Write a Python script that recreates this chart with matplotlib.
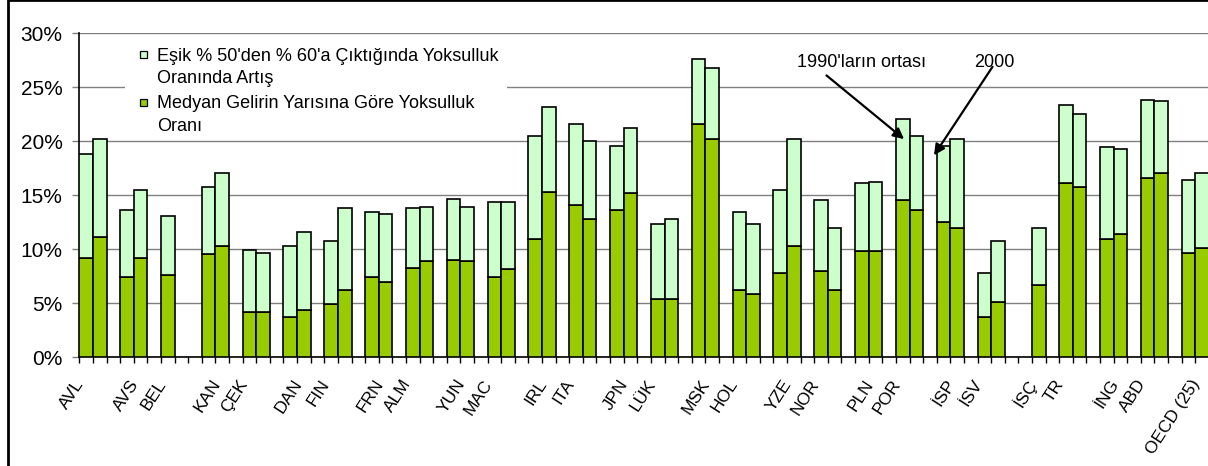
import numpy as np
import matplotlib
import matplotlib.pyplot as plt
from matplotlib.patches import Rectangle

matplotlib.use("Agg")
plt.rcParams["font.family"] = ["Liberation Sans", "DejaVu Sans"]

countries = ["AVL", "AVS", "BEL", "KAN", "ÇEK", "DAN", "FIN", "FRN", "ALM", "YUN",
             "MAC", "IRL", "ITA", "JPN", "LÜK", "MSK", "HOL", "YZE", "NOR", "PLN",
             "POR", "İSP", "İSV", "İSÇ", "TR", "İNG", "ABD", "OECD (25)"]

# poverty rate at half of median income (%), mid-1990s and 2000
base_mid90s = [9.2, 7.4, 7.65, 9.55, 4.2, 3.7, 4.9, 7.4, 8.3, 9.05,
               7.4, 10.95, 14.1, 13.6, 5.4, 21.6, 6.2, 7.8, 8.0, 9.85,
               14.55, 12.5, 3.7, np.nan, 16.1, 10.95, 16.6, 9.7]
base_2000 = [11.1, 9.2, np.nan, 10.3, 4.2, 4.35, 6.2, 7.0, 8.9, 8.9,
             8.15, 15.3, 12.8, 15.2, 5.4, 20.2, 5.9, 10.3, 6.2, 9.85,
             13.6, 12.0, 5.15, 6.7, 15.8, 11.4, 17.05, 10.15]
# increase in the rate when the threshold goes from 50% to 60%
rise_mid90s = [9.6, 6.2, 5.45, 6.25, 5.7, 6.6, 5.9, 6.1, 5.5, 5.65,
               7.0, 9.55, 7.5, 6.0, 6.95, 6.0, 7.3, 7.7, 6.55, 6.25,
               7.55, 7.05, 4.1, np.nan, 7.25, 8.5, 7.25, 6.7]
rise_2000 = [9.1, 6.3, np.nan, 6.8, 5.5, 7.25, 7.6, 6.3, 5.05, 5.05,
             6.25, 7.9, 7.25, 6.0, 7.4, 6.6, 6.45, 9.9, 5.8, 6.4,
             6.9, 8.2, 5.65, 5.3, 6.75, 7.85, 6.65, 6.9]

legend_labels = ["Eşik % 50'den % 60'a Çıktığında Yoksulluk\nOranında Artış",
                 "Medyan Gelirin Yarısına Göre Yoksulluk\nOranı"]

DARK = "#99CC00"
LIGHT = "#CCFFCC"
W, H = 1208, 466


def px(x, y):
    return x / W, 1 - y / H


fig = plt.figure(figsize=(W / 100, H / 100), dpi=100)
n_slots = 3 * len(countries)
slot_w = 13.61
ax = fig.add_axes([79.3 / W, (H - 357.3) / H, n_slots * slot_w / W, 324 / H])

idx = np.arange(len(countries))
for offset, base, rise in [(0, base_mid90s, rise_mid90s), (1, base_2000, rise_2000)]:
    base = np.array(base)
    rise = np.array(rise)
    ok = ~np.isnan(base)
    xs = 3 * idx[ok] + offset
    ax.bar(xs, base[ok], width=1.0, color=DARK, edgecolor="black", lw=1.2, zorder=3)
    ax.bar(xs, rise[ok], bottom=base[ok], width=1.0, color=LIGHT,
           edgecolor="black", lw=1.2, zorder=3)

ax.set_xlim(-0.5, n_slots - 0.5)
ax.set_ylim(0, 30)
ax.set_yticks(np.arange(0, 31, 5))
ax.set_yticklabels([f"{v}%" for v in range(0, 31, 5)], fontsize=15)
ax.tick_params(axis="y", length=5, width=1, color="#808080", pad=7)
ax.yaxis.grid(True, color="#808080", lw=1)
ax.set_axisbelow(True)

label_slots = [3 * i if i % 2 == 0 else 3 * i + 1 for i in idx]
ax.set_xticks(np.array(label_slots) - 0.4)
ax.set_xticklabels(countries, rotation=57, ha="right", va="center",
                   rotation_mode="anchor", fontsize=12.5)
ax.tick_params(axis="x", which="major", length=0, pad=17)
ax.set_xticks(np.arange(-0.5, n_slots, 1.0), minor=True)
ax.tick_params(axis="x", which="minor", length=4, width=1, color="black")

for side in ["top", "right"]:
    ax.spines[side].set_visible(False)
ax.spines["left"].set_linewidth(1.2)
ax.spines["bottom"].set_linewidth(1.2)

# legend drawn by hand so the key sits on the first text line
bg = Rectangle(px(125, 135), (507 - 125) / W, 95 / H, transform=fig.transFigure,
               facecolor="white", edgecolor="none", zorder=1.5)
ax.add_artist(bg)
for k, (label, color) in enumerate(zip(legend_labels, [LIGHT, DARK])):
    top = 51 + 47.5 * k
    fig.add_artist(Rectangle(px(140, top + 7), 7 / W, 7 / H,
                             transform=fig.transFigure, facecolor=color,
                             edgecolor="black", lw=0.9))
    for j, line in enumerate(label.split("\n")):
        fig.text(*px(157.3, top + 9.7 + 22.5 * j), line, fontsize=13,
                 va="baseline", ha="left")

ax.text(52.2, 27.34, "1990'ların ortası", fontsize=13, va="center", ha="left")
ax.text(65.24, 27.34, "2000", fontsize=13, va="center", ha="left")
arrow = dict(arrowstyle="-|>", color="black", lw=1.6, mutation_scale=16,
             shrinkA=0, shrinkB=0)
ax.annotate("", xy=(60.1, 20.2), xytext=(54.4, 26.1), arrowprops=arrow)
ax.annotate("", xy=(62.3, 18.7), xytext=(66.6, 26.9), arrowprops=arrow)

# outer chart frame
fig.add_artist(Rectangle(px(8, 480), 1.0, 480 / H, transform=fig.transFigure,
                         fill=False, edgecolor="black", lw=2.0))

fig.savefig("out.png", dpi=100)
